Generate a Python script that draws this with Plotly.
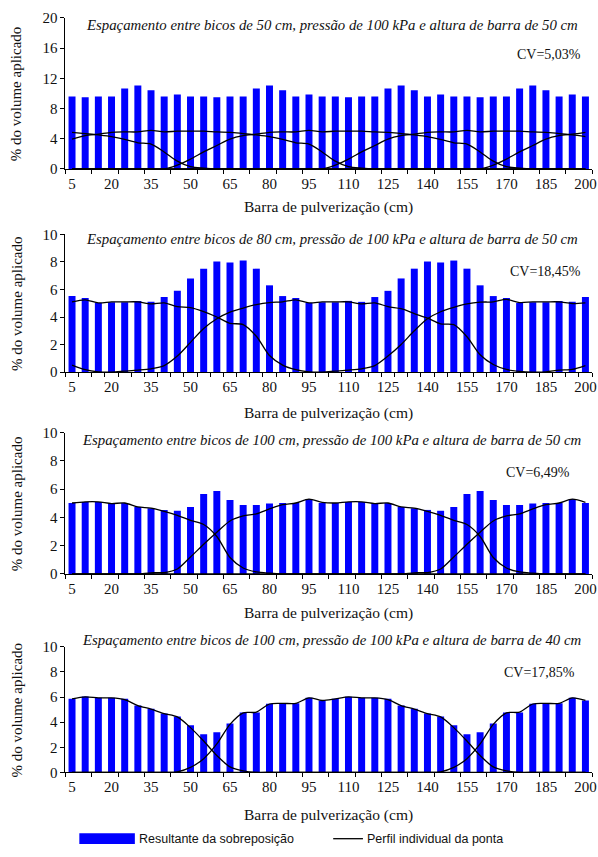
import plotly.graph_objects as go
from plotly.subplots import make_subplots

# ---------------- data ----------------
barra_cm = [5, 10, 15, 20, 25, 30, 35, 40, 45, 50, 55, 60, 65, 70, 75, 80, 85, 90, 95, 100,
            105, 110, 115, 120, 125, 130, 135, 140, 145, 150, 155, 160, 165, 170, 175, 180,
            185, 190, 195, 200]
tick_vals = [5, 20, 35, 50, 65, 80, 95, 110, 125, 140, 155, 170, 185, 200]
tick_text = ["5", "20", "35", "50", "65", "80", "95", "110", "125", "140", "155", "170", "185", "200"]

titles = [
    "Espaçamento entre bicos de 50 cm, pressão de 100 kPa e altura de barra de 50 cm",
    "Espaçamento entre bicos de 80 cm, pressão de 100 kPa e altura de barra de 50 cm",
    "Espaçamento entre bicos de 100 cm, pressão de 100 kPa e altura de barra de 50 cm",
    "Espaçamento entre bicos de 100 cm, pressão de 100 kPa e altura de barra de 40 cm",
]
cv_labels = ["CV=5,03%", "CV=18,45%", "CV=6,49%", "CV=17,85%"]

# Panel 1 (50 cm spacing, 50 cm height)
p1_bars = [9.6, 9.5, 9.6, 9.6, 10.65, 11.05, 10.4, 9.6, 9.85, 9.6,
           9.6, 9.5, 9.6, 9.6, 10.65, 11.05, 10.4, 9.6, 9.85, 9.6,
           9.6, 9.5, 9.6, 9.6, 10.65, 11.05, 10.4, 9.6, 9.85, 9.6,
           9.6, 9.5, 9.6, 9.6, 10.65, 11.05, 10.4, 9.6, 9.85, 9.6]
p1_line_a = [4.85, 4.68, 4.5, 4.28, 3.9, 3.46, 3.29, 2.25, 1.04, 0.3,
             0.1, 0, 0, 0, 0, 0, 0, 0, 0, 0,
             0, 0, 0, 0, 0, 0, 0, 0, 0, 0,
             0, 0, 0, 0, 0, 0, 0, 0, 0, 0]
p1_line_b = [3.95, 4.4, 4.6, 4.85, 4.9, 4.9, 5.1, 4.9, 5.0, 5.0,
             5.0, 4.9, 4.85, 4.68, 4.5, 4.28, 3.9, 3.46, 3.29, 2.25,
             1.04, 0.3, 0.1, 0, 0, 0, 0, 0, 0, 0,
             0, 0, 0, 0, 0, 0, 0, 0, 0, 0]
p1_line_c = [0, 0, 0, 0, 0, 0, 0, 0, 0.5, 1.3,
             2.25, 3.1, 3.95, 4.4, 4.6, 4.85, 4.9, 4.9, 5.1, 4.9,
             5.0, 5.0, 5.0, 4.9, 4.85, 4.68, 4.5, 4.28, 3.9, 3.46,
             3.29, 2.25, 1.04, 0.3, 0.1, 0, 0, 0, 0, 0]
p1_line_d = [0, 0, 0, 0, 0, 0, 0, 0, 0, 0,
             0, 0, 0, 0, 0, 0, 0, 0, 0, 0,
             0.5, 1.3, 2.25, 3.1, 3.95, 4.4, 4.6, 4.85, 4.9, 4.9,
             5.1, 4.9, 5.0, 5.0, 5.0, 4.9, 4.85, 4.68, 4.5, 4.28]
p1_line_e = [0, 0, 0, 0, 0, 0, 0, 0, 0, 0,
             0, 0, 0, 0, 0, 0, 0, 0, 0, 0,
             0, 0, 0, 0, 0, 0, 0, 0, 0, 0,
             0, 0, 0.5, 1.3, 2.25, 3.1, 3.95, 4.4, 4.6, 4.85]

# Panel 2 (80 cm spacing, 50 cm height)
p2_bars = [5.52, 5.38, 5.02, 5.07, 5.07, 5.17, 5.1, 5.45, 5.9, 6.8,
           7.51, 8.03, 7.96, 8.1, 7.51, 6.3, 5.52, 5.38, 5.02, 5.07,
           5.07, 5.17, 5.1, 5.45, 5.9, 6.8, 7.51, 8.03, 7.96, 8.1,
           7.51, 6.3, 5.52, 5.38, 5.02, 5.07, 5.07, 5.17, 5.1, 5.45]
p2_line_a = [5.1, 5.25, 5.03, 5.1, 5.1, 5.1, 4.96, 5.03, 4.75, 4.68,
             4.39, 4.0, 3.54, 3.45, 2.6, 1.2, 0.5, 0.17, 0.02, 0,
             0.07, 0.14, 0.24, 0.47, 1.16, 2.0, 3.0, 3.87, 4.38, 4.7,
             4.95, 5.08, 5.1, 5.28, 5.05, 5.1, 5.1, 5.1, 4.98, 5.03]
p2_line_b = [0.5, 0.17, 0.02, 0, 0.07, 0.14, 0.24, 0.47, 1.16, 2.16,
             3.16, 3.87, 4.35, 4.65, 4.9, 5.05, 5.1, 5.25, 5.03, 5.1,
             5.1, 5.1, 4.96, 5.03, 4.75, 4.6, 4.25, 3.92, 3.5, 3.44,
             2.57, 1.26, 0.55, 0.19, 0.05, 0, 0.02, 0.14, 0.19, 0.47]

# Panel 3 (100 cm spacing, 50 cm height)
p3_bars = [5.02, 5.09, 5.09, 4.98, 5.02, 4.74, 4.65, 4.53, 4.47, 4.74,
           5.65, 5.86, 5.23, 4.88, 4.88, 4.98, 5.02, 5.02, 5.3, 5.02,
           5.02, 5.09, 5.09, 4.98, 5.02, 4.74, 4.65, 4.53, 4.47, 4.74,
           5.65, 5.86, 5.23, 4.88, 4.88, 4.98, 5.02, 5.02, 5.3, 5.02]
p3_line_a = [5.02, 5.1, 5.1, 4.98, 5.02, 4.74, 4.65, 4.42, 4.14, 3.79,
             3.5, 2.65, 1.16, 0.42, 0.14, 0.05, 0, 0, 0, 0,
             0, 0, 0, 0, 0, 0, 0, 0, 0, 0,
             0, 0, 0, 0, 0, 0, 0, 0, 0, 0]
p3_line_b = [0, 0, 0, 0, 0, 0, 0.08, 0.1, 0.35, 1.2,
             2.1, 2.95, 3.75, 4.1, 4.25, 4.6, 4.9, 5.02, 5.3, 5.07,
             5.02, 5.1, 5.1, 4.98, 5.02, 4.74, 4.65, 4.42, 4.14, 3.79,
             3.5, 2.65, 1.16, 0.42, 0.14, 0.05, 0, 0, 0, 0]
p3_line_c = [0, 0, 0, 0, 0, 0, 0, 0, 0, 0,
             0, 0, 0, 0, 0, 0, 0, 0, 0, 0,
             0, 0, 0, 0, 0, 0, 0.08, 0.1, 0.35, 1.2,
             2.1, 2.95, 3.75, 4.1, 4.25, 4.6, 4.9, 5.02, 5.3, 5.07]

# Panel 4 (100 cm spacing, 40 cm height)
p4_bars = [5.86, 6.04, 5.94, 5.94, 5.86, 5.34, 5.08, 4.69, 4.45, 3.75,
           3.05, 3.2, 3.9, 4.77, 4.77, 5.47, 5.5, 5.5, 5.94, 5.73,
           5.86, 6.02, 5.94, 5.94, 5.86, 5.34, 5.08, 4.69, 4.45, 3.75,
           3.05, 3.2, 3.9, 4.77, 4.77, 5.47, 5.5, 5.5, 5.94, 5.73]
p4_line_a = [5.86, 6.02, 5.94, 5.94, 5.8, 5.32, 5.04, 4.68, 4.42, 3.57,
             2.5, 1.35, 0.44, 0.12, 0, 0, 0, 0, 0, 0,
             0, 0, 0, 0, 0, 0, 0, 0, 0, 0,
             0, 0, 0, 0, 0, 0, 0, 0, 0, 0]
p4_line_b = [0, 0, 0, 0, 0, 0, 0, 0, 0.05, 0.4,
             1.1, 2.27, 3.83, 4.75, 4.8, 5.45, 5.5, 5.5, 5.94, 5.73,
             5.86, 6.02, 5.94, 5.94, 5.8, 5.32, 5.04, 4.68, 4.42, 3.57,
             2.5, 1.35, 0.44, 0.12, 0, 0, 0, 0, 0, 0]
p4_line_c = [0, 0, 0, 0, 0, 0, 0, 0, 0, 0,
             0, 0, 0, 0, 0, 0, 0, 0, 0, 0,
             0, 0, 0, 0, 0, 0, 0, 0, 0.05, 0.4,
             1.1, 2.27, 3.83, 4.75, 4.8, 5.45, 5.5, 5.5, 5.94, 5.73]

panels = [
    (p1_bars, [p1_line_a, p1_line_b, p1_line_c, p1_line_d, p1_line_e]),
    (p2_bars, [p2_line_a, p2_line_b]),
    (p3_bars, [p3_line_a, p3_line_b, p3_line_c]),
    (p4_bars, [p4_line_a, p4_line_b, p4_line_c]),
]
y_max = [20, 10, 10, 10]
y_dtick = [4, 2, 2, 2]
x_minor_dtick = [10, 5, 10, 10]

# ---------------- layout geometry (pixels) ----------------
W, H = 598, 857
plot_left, plot_right = 66, 597
panel_px = [(10, 164), (230.7, 371), (432.7, 576.7), (651, 779)]  # (top, bottom)
title_y = [17, 235, 440.5, 644]
cv_pos = [(588, 47), (588, 269), (577, 473), (582, 677)]
xtitle_y = [203, 413, 617, 822]

SERIF = "Liberation Serif, Times New Roman, serif"
SANS = "Liberation Sans, Arial, sans-serif"
BLUE = "#0000FF"

fig = make_subplots(rows=4, cols=1)

for k, (bars, lines) in enumerate(panels):
    r = k + 1
    fig.add_trace(go.Bar(x=barra_cm, y=bars, marker=dict(color=BLUE, line=dict(width=0)),
                         name="Resultante da sobreposição", showlegend=False), row=r, col=1)
    for ln in lines:
        fig.add_trace(go.Scatter(x=barra_cm, y=ln, mode="lines",
                                 line=dict(color="black", width=1.3, shape="spline", smoothing=0.8),
                                 name="Perfil individual da ponta", showlegend=False), row=r, col=1)

def px_x(p):
    return p / W

def px_y(p):
    return 1 - p / H

annotations = []
for k in range(4):
    top, bot = panel_px[k]
    xa = "xaxis" if k == 0 else f"xaxis{k+1}"
    ya = "yaxis" if k == 0 else f"yaxis{k+1}"
    fig.layout[xa].update(
        domain=[px_x(plot_left), px_x(plot_right)],
        range=[2.5, 202.5],
        tickmode="array", tickvals=tick_vals, ticktext=tick_text,
        ticks="", showline=True, linecolor="black", linewidth=1,
        showgrid=False, zeroline=False,
        tickfont=dict(family=SERIF, size=15, color="#111"),
        ticklabelstandoff=1, ticklabeloverflow="allow",
        minor=dict(ticks="outside", ticklen=4, tickcolor="black", tickwidth=1,
                   tick0=2.5, dtick=x_minor_dtick[k], showgrid=False),
    )
    fig.layout[ya].update(
        domain=[px_y(bot), px_y(top)],
        range=[0, y_max[k]], dtick=y_dtick[k], tick0=0,
        ticks="outside", ticklen=4, tickcolor="black",
        showline=True, linecolor="black", linewidth=1,
        showgrid=False, zeroline=False,
        tickfont=dict(family=SERIF, size=15, color="#111"),
    )
    # panel title
    annotations.append(dict(text=f"<i>{titles[k]}</i>", x=px_x(335), y=px_y(title_y[k]),
                            xref="paper", yref="paper", xanchor="center", yanchor="middle",
                            showarrow=False, font=dict(family=SERIF, size=14.8, color="#111")))
    # CV
    annotations.append(dict(text=cv_labels[k], x=px_x(cv_pos[k][0]), y=px_y(cv_pos[k][1]),
                            xref="paper", yref="paper", xanchor="right", yanchor="middle",
                            showarrow=False, font=dict(family=SERIF, size=14, color="#111")))
    # x title
    annotations.append(dict(text="Barra de pulverização (cm)", x=px_x(331), y=px_y(xtitle_y[k]),
                            xref="paper", yref="paper", xanchor="center", yanchor="middle",
                            showarrow=False, font=dict(family=SERIF, size=15.5, color="#111")))
    # y title
    annotations.append(dict(text="% do volume aplicado", x=px_x(17), y=px_y((top + bot) / 2),
                            xref="paper", yref="paper", xanchor="center", yanchor="middle",
                            textangle=-90, showarrow=False,
                            font=dict(family=SERIF, size=15, color="#111")))

# manual legend
annotations.append(dict(text="Resultante da sobreposição", x=px_x(138), y=px_y(846.5),
                        xref="paper", yref="paper", xanchor="left", yanchor="middle",
                        showarrow=False, font=dict(family=SANS, size=12.5, color="#111")))
annotations.append(dict(text="Perfil individual da ponta", x=px_x(368), y=px_y(846.5),
                        xref="paper", yref="paper", xanchor="left", yanchor="middle",
                        showarrow=False, font=dict(family=SANS, size=12.5, color="#111")))
shapes = [
    dict(type="rect", xref="paper", yref="paper", x0=px_x(80), x1=px_x(136),
         y0=px_y(852), y1=px_y(841), fillcolor=BLUE, line=dict(width=0)),
    dict(type="line", xref="paper", yref="paper", x0=px_x(336), x1=px_x(366),
         y0=px_y(846.5), y1=px_y(846.5), line=dict(color="black", width=1.3)),
]

fig.update_layout(
    width=W, height=H,
    margin=dict(l=0, r=0, t=0, b=0),
    paper_bgcolor="white", plot_bgcolor="white",
    bargap=0.47, showlegend=False,
    annotations=annotations, shapes=shapes,
    font=dict(family=SERIF, color="#111"),
)

fig.write_html("out.html")
